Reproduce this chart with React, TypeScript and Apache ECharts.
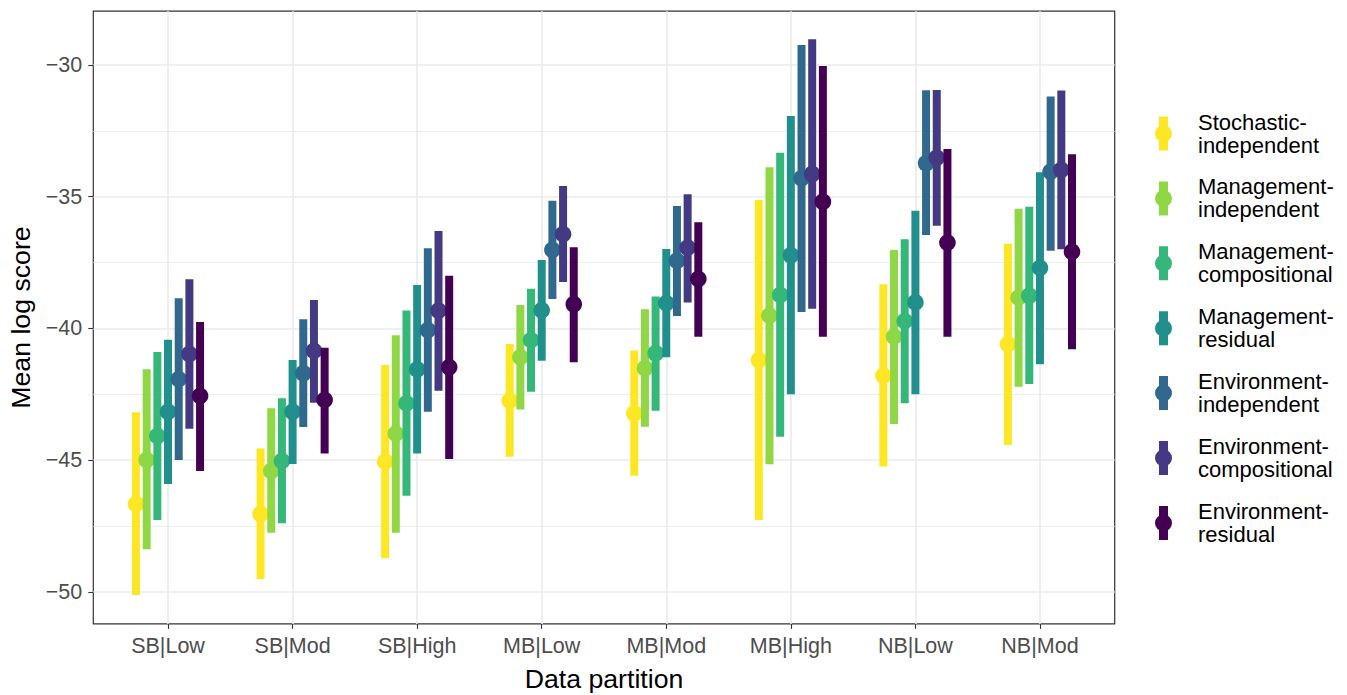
import React, { useEffect, useRef } from "react";
import * as echarts from "echarts";

const categories = ["SB|Low", "SB|Mod", "SB|High", "MB|Low", "MB|Mod", "MB|High", "NB|Low", "NB|Mod"];

const seriesNames = [
  "Stochastic-independent",
  "Management-independent",
  "Management-compositional",
  "Management-residual",
  "Environment-independent",
  "Environment-compositional",
  "Environment-residual",
];

const seriesColors = ["#FDE725", "#8FD744", "#35B779", "#21908C", "#31688E", "#443A83", "#440154"];

// Stochastic-independent
const stochIndepMean = [-46.66, -47.04, -45.05, -42.74, -43.22, -41.2, -41.79, -40.6];
const stochIndepLow = [-50.11, -49.51, -48.72, -44.87, -45.59, -47.27, -45.24, -44.42];
const stochIndepHigh = [-43.18, -44.55, -41.39, -40.59, -40.84, -35.12, -38.32, -36.78];

// Management-independent
const mgmtIndepMean = [-44.99, -45.41, -43.99, -41.09, -41.51, -39.51, -40.31, -38.83];
const mgmtIndepLow = [-48.38, -47.75, -47.75, -43.07, -43.73, -45.15, -43.62, -42.21];
const mgmtIndepHigh = [-41.55, -43.03, -40.26, -39.11, -39.27, -33.88, -37.02, -35.46];

// Management-compositional
const mgmtCompMean = [-44.08, -45.03, -42.84, -40.44, -40.94, -38.73, -39.72, -38.76];
const mgmtCompLow = [-47.27, -47.39, -46.35, -42.4, -43.12, -44.11, -42.84, -42.11];
const mgmtCompHigh = [-40.89, -42.65, -39.32, -38.49, -38.79, -33.33, -36.61, -35.38];

// Management-residual
const mgmtResMean = [-43.16, -43.16, -41.55, -39.31, -39.04, -37.22, -39.01, -37.7];
const mgmtResLow = [-45.9, -45.14, -44.74, -41.22, -41.09, -42.5, -42.5, -41.36];
const mgmtResHigh = [-40.43, -41.2, -38.35, -37.4, -36.98, -31.94, -35.53, -34.07];

// Environment-independent
const envIndepMean = [-41.92, -41.7, -40.06, -37.02, -37.43, -34.3, -33.73, -34.05];
const envIndepLow = [-44.99, -43.74, -43.16, -38.88, -39.53, -39.37, -36.45, -37.05];
const envIndepHigh = [-38.85, -39.65, -36.96, -35.15, -35.35, -29.24, -30.96, -31.2];

// Environment-compositional
const envCompMean = [-40.97, -40.85, -39.32, -36.42, -36.93, -34.14, -33.52, -33.98];
const envCompLow = [-43.8, -42.82, -42.36, -38.24, -39.01, -39.25, -36.1, -36.99];
const envCompHigh = [-38.13, -38.92, -36.3, -34.59, -34.91, -29.02, -30.95, -30.97];

// Environment-residual
const envResMean = [-42.56, -42.71, -41.47, -39.08, -38.12, -35.19, -36.74, -37.09];
const envResLow = [-45.41, -44.74, -44.95, -41.28, -40.31, -40.31, -40.31, -40.79];
const envResHigh = [-39.75, -40.73, -38.0, -36.92, -35.97, -30.04, -33.19, -33.39];

const yMajorTicks = [-50, -45, -40, -35, -30];
const yMinorTicks = [-47.5, -42.5, -37.5, -32.5];
const xTicks = [1, 2, 3, 4, 5, 6, 7, 8];

const seriesMeans = [stochIndepMean, mgmtIndepMean, mgmtCompMean, mgmtResMean, envIndepMean, envCompMean, envResMean];
const seriesLows = [stochIndepLow, mgmtIndepLow, mgmtCompLow, mgmtResLow, envIndepLow, envCompLow, envResLow];
const seriesHighs = [stochIndepHigh, mgmtIndepHigh, mgmtCompHigh, mgmtResHigh, envIndepHigh, envCompHigh, envResHigh];

const FONT = "'Liberation Sans', Arial, Helvetica, sans-serif";
const DODGE = 0.6;
const BAR_W = 8;
const PT_R = 8.3;

const legendIcon =
  "path://M4,0 L13,0 L13,34 L4,34 Z M0,17 A8.5,8.5 0 1,1 17,17 A8.5,8.5 0 1,1 0,17 Z";

function fmtY(v: number) {
  return v < 0 ? "\u2212" + Math.abs(v) : String(v);
}

export default function App() {
  const ref = useRef<HTMLDivElement>(null);

  useEffect(() => {
    if (!ref.current) return;
    const chart = echarts.init(ref.current, undefined, { renderer: "svg" });
    const n = seriesNames.length;

    const series: any[] = seriesNames.map((name, si) => {
      const color = seriesColors[si];
      const offset = (si - (n - 1) / 2) * (DODGE / n);
      const data = categories.map((_, ci) => [ci + 1, seriesMeans[si][ci], seriesLows[si][ci], seriesHighs[si][ci]]);
      return {
        type: "custom",
        name,
        xAxisIndex: 0,
        yAxisIndex: 0,
        itemStyle: { color },
        encode: { x: 0, y: [1, 2, 3] },
        data,
        z: 3 + si,
        renderItem: (params: any, api: any) => {
          const x = api.value(0) + offset;
          const pm = api.coord([x, api.value(1)]);
          const pl = api.coord([x, api.value(2)]);
          const ph = api.coord([x, api.value(3)]);
          return {
            type: "group",
            children: [
              {
                type: "rect",
                shape: { x: ph[0] - BAR_W / 2, y: ph[1], width: BAR_W, height: pl[1] - ph[1] },
                style: { fill: color },
              },
              {
                type: "circle",
                shape: { cx: pm[0], cy: pm[1], r: PT_R },
                style: { fill: color },
              },
            ],
          };
        },
      };
    });

    const tickLine = { color: "#333333", width: 1.1 };
    const major = { color: "#EBEBEB", width: 1.7 };
    const minor = { color: "#EBEBEB", width: 0.85 };

    const option: any = {
      animation: false,
      backgroundColor: "#ffffff",
      textStyle: { fontFamily: FONT },
      grid: {
        left: 93.3,
        right: 232.3,
        top: 11.2,
        bottom: 71.1,
        show: true,
        containLabel: false,
        outerBoundsMode: "none",
        borderColor: "#333333",
        borderWidth: 1.2,
        backgroundColor: "transparent",
      },
      xAxis: [
        {
          type: "value",
          min: 0.4,
          max: 8.6,
          axisLine: { show: false },
          axisTick: { show: true, length: 5, lineStyle: tickLine, customValues: xTicks },
          axisLabel: {
            customValues: xTicks,
            formatter: (v: number) => categories[Math.round(v) - 1] ?? "",
            color: "#4D4D4D",
            fontSize: 21.5,
            fontFamily: FONT,
            margin: 11,
          },
          splitLine: { show: true, lineStyle: major },
          name: "Data partition",
          nameLocation: "middle",
          nameGap: 42,
          nameTextStyle: { fontSize: 26.7, color: "#000000", fontFamily: FONT },
        },
      ],
      yAxis: [
        {
          type: "value",
          min: -51.21,
          max: -27.96,
          axisLine: { show: false },
          axisTick: { show: true, length: 5, lineStyle: tickLine, customValues: yMajorTicks },
          axisLabel: {
            customValues: yMajorTicks,
            formatter: (v: number) => fmtY(v),
            color: "#4D4D4D",
            fontSize: 21.5,
            fontFamily: FONT,
            margin: 11,
          },
          splitLine: { show: true, lineStyle: major },
          name: "Mean log score",
          nameLocation: "middle",
          nameGap: 58,
          nameTextStyle: { fontSize: 26.7, color: "#000000", fontFamily: FONT },
        },
        {
          type: "value",
          min: -51.21,
          max: -27.96,
          position: "left",
          axisLine: { show: false },
          axisTick: { show: false, customValues: yMinorTicks },
          axisLabel: { show: false, customValues: yMinorTicks },
          splitLine: { show: true, lineStyle: minor },
        },
      ],
      legend: {
        orient: "vertical",
        left: 1150,
        top: 105.5,
        itemWidth: 59,
        itemHeight: 34,
        itemGap: 18.9,
        selectedMode: false,
        icon: legendIcon,
        data: seriesNames.map((name) => ({ name, icon: legendIcon })),
        formatter: (name: string) => name.replace("-", "-\n"),
        textStyle: { fontSize: 22, lineHeight: 23, color: "#000000", fontFamily: FONT },
      },
      series,
    };

    chart.setOption(option);
    return () => chart.dispose();
  }, []);

  return (
    <div
      ref={ref}
      style={{ position: "fixed", left: 0, top: 0, width: 1347, height: 695, background: "#ffffff" }}
    />
  );
}
